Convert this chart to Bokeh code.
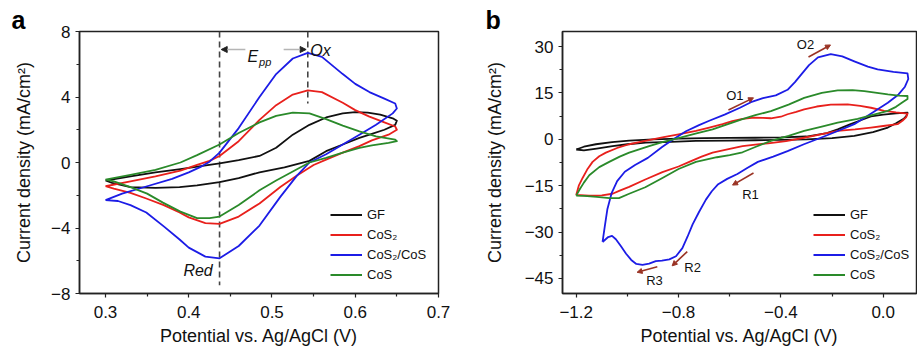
from bokeh.plotting import figure
from bokeh.layouts import row
from bokeh.models import (Range1d, Legend, LegendItem, Label, Arrow, NormalHead,
                          CustomJSTickFormatter, FixedTicker)
from bokeh.embed import file_html
from bokeh.resources import INLINE

FONT = "Liberation Sans"

series_names = ["GF", "CoS₂", "CoS₂/CoS", "CoS"]
series_colors = ["#111111", "#e8201c", "#1c1ce6", "#2a8a2a"]

# ---------------- panel a data (V vs Ag/AgCl, mA/cm2) ----------------
a_gf_x = [0.30, 0.33, 0.36, 0.39, 0.437, 0.46, 0.485, 0.505, 0.525, 0.545, 0.565, 0.585, 0.60, 0.615, 0.63, 0.645, 0.65,
          0.648, 0.635, 0.62, 0.605, 0.585, 0.565, 0.545, 0.515, 0.485, 0.46, 0.437, 0.41, 0.389, 0.36, 0.33, 0.308, 0.30]
a_gf_y = [-1.1, -0.85, -0.6, -0.4, -0.05, 0.15, 0.4, 0.9, 1.7, 2.3, 2.75, 3.0, 3.08, 3.05, 2.93, 2.7, 2.55,
          2.3, 2.0, 1.75, 1.5, 1.1, 0.69, 0.1, -0.3, -0.6, -0.95, -1.2, -1.4, -1.5, -1.55, -1.5, -1.25, -1.1]

a_cos2_x = [0.30, 0.33, 0.36, 0.39, 0.41, 0.425, 0.437, 0.46, 0.485, 0.505, 0.525, 0.543, 0.56, 0.585, 0.60, 0.617, 0.635, 0.648,
            0.65, 0.64, 0.62, 0.605, 0.585, 0.565, 0.55, 0.53, 0.51, 0.485, 0.46, 0.437, 0.42, 0.40, 0.389, 0.37, 0.349, 0.33, 0.31, 0.30]
a_cos2_y = [-1.45, -1.15, -0.85, -0.5, -0.15, 0.1, 0.4, 1.3, 2.6, 3.5, 4.15, 4.4, 4.3, 3.65, 3.2, 2.8, 2.45, 2.2,
            2.0, 1.7, 1.35, 1.0, 0.6, 0.18, -0.15, -0.8, -1.5, -2.5, -3.3, -3.75, -3.7, -3.35, -3.05, -2.6, -2.2, -1.85, -1.6, -1.45]

a_mix_x = [0.30, 0.32, 0.35, 0.38, 0.40, 0.415, 0.425, 0.437, 0.46, 0.485, 0.505, 0.525, 0.543, 0.56, 0.585, 0.60, 0.617, 0.635, 0.648,
           0.65, 0.645, 0.625, 0.605, 0.585, 0.565, 0.545, 0.53, 0.51, 0.485, 0.46, 0.437, 0.42, 0.40, 0.389, 0.37, 0.349, 0.33, 0.315, 0.30]
a_mix_y = [-2.3, -1.9, -1.45, -1.0, -0.6, -0.25, 0.05, 0.6, 2.1, 4.0, 5.4, 6.35, 6.7, 6.45, 5.4, 4.8, 4.3, 3.9, 3.6,
           3.3, 3.0, 2.3, 1.7, 1.1, 0.5, 0.0, -0.8, -2.1, -3.85, -5.1, -5.85, -5.75, -5.2, -4.7, -3.9, -3.05, -2.6, -2.35, -2.3]

a_cos_x = [0.30, 0.33, 0.36, 0.39, 0.41, 0.437, 0.46, 0.485, 0.505, 0.525, 0.545, 0.565, 0.585, 0.605, 0.625, 0.648,
           0.65, 0.64, 0.62, 0.605, 0.585, 0.565, 0.545, 0.525, 0.505, 0.485, 0.46, 0.437, 0.425, 0.41, 0.39, 0.369, 0.35, 0.33, 0.31, 0.30]
a_cos_y = [-1.05, -0.75, -0.45, 0.0, 0.45, 1.1, 1.8, 2.45, 2.85, 3.05, 3.0, 2.65, 2.25, 1.9, 1.6, 1.4,
           1.3, 1.2, 1.05, 0.9, 0.6, 0.28, 0.0, -0.55, -1.1, -1.7, -2.6, -3.3, -3.4, -3.4, -3.0, -2.45, -1.9, -1.5, -1.15, -1.05]

# ---------------- panel b data ----------------
b_gf_x = [-1.2, -1.17, -1.123, -1.06, -0.993, -0.9, -0.8, -0.7, -0.6, -0.5, -0.4, -0.3, -0.22, -0.178, -0.13, -0.08, -0.048, 0.0, 0.05, 0.095,
          0.09, 0.08, 0.05, 0.018, -0.04, -0.113, -0.2, -0.3, -0.4, -0.5, -0.6, -0.732, -0.83, -0.928, -1.0, -1.058, -1.12, -1.17, -1.2]
b_gf_y = [-3.3, -2.4, -1.6, -0.9, -0.4, 0.0, 0.2, 0.35, 0.45, 0.5, 0.6, 0.9, 2.0, 3.2, 4.8, 6.4, 7.4, 8.0, 8.4, 8.6,
          7.5, 6.6, 5.2, 3.8, 2.3, 1.1, 0.4, 0.0, -0.2, -0.3, -0.4, -0.5, -0.8, -1.1, -1.6, -2.2, -3.0, -3.6, -3.3]

b_cos2_x = [-1.2, -1.19, -1.175, -1.155, -1.136, -1.11, -1.084, -1.04, -0.993, -0.93, -0.863, -0.8, -0.732, -0.68, -0.628, -0.59, -0.55,
            -0.504, -0.47, -0.439, -0.40, -0.374, -0.34, -0.309, -0.26, -0.205, -0.139, -0.09, -0.048, 0.004, 0.05, 0.095,
            0.09, 0.075, 0.056, 0.0, -0.048, -0.11, -0.178, -0.24, -0.309, -0.38, -0.45, -0.50, -0.55, -0.60, -0.667, -0.71,
            -0.758, -0.80, -0.863, -0.93, -0.993, -1.03, -1.058, -1.10, -1.15, -1.2]
b_cos2_y = [-18.0, -15.0, -12.5, -9.5, -7.3, -5.5, -4.3, -2.8, -1.6, -0.5, 0.6, 1.6, 2.7, 3.8, 4.9, 5.9, 6.6,
            7.0, 6.9, 6.8, 7.3, 8.1, 8.9, 9.7, 10.6, 11.2, 11.3, 10.8, 10.2, 9.2, 8.7, 8.3,
            7.2, 6.0, 4.9, 4.3, 3.8, 3.2, 2.7, 1.7, 0.5, -0.6, -1.3, -1.7, -2.2, -3.1, -4.3, -5.6,
            -7.3, -8.8, -10.6, -13.0, -15.4, -16.6, -17.6, -18.1, -18.2, -18.0]

b_mix_x = [-1.097, -1.088, -1.078, -1.062, -1.04, -1.01, -0.97, -0.92, -0.863, -0.82, -0.771, -0.72, -0.68, -0.62, -0.56, -0.517,
           -0.47, -0.42, -0.374, -0.345, -0.32, -0.29, -0.255, -0.205, -0.16, -0.113, -0.06, -0.022, 0.04, 0.095,
           0.098, 0.085, 0.06, 0.018, -0.05, -0.113, -0.18, -0.244, -0.31, -0.374, -0.43, -0.49, -0.53, -0.57, -0.61, -0.645,
           -0.67, -0.693, -0.72, -0.745, -0.765, -0.785, -0.81, -0.836, -0.865, -0.889, -0.915, -0.941, -0.965, -0.985,
           -1.005, -1.025, -1.045, -1.06, -1.075, -1.097]
b_mix_y = [-33.2, -28.0, -22.5, -17.5, -13.5, -10.5, -8.3, -6.0, -2.4, 0.0, 2.6, 4.6, 6.0, 8.0, 10.2, 12.0,
           13.3, 14.2, 16.0, 18.5, 21.0, 24.0, 26.5, 27.5, 26.8, 25.2, 23.5, 22.6, 21.8, 21.3,
           19.5, 17.0, 14.5, 11.8, 8.2, 4.9, 2.6, 0.5, -1.6, -3.8, -5.6, -7.3, -9.2, -11.2, -12.8, -14.5,
           -16.8, -19.5, -23.5, -27.5, -31.5, -35.2, -37.8, -38.8, -39.2, -39.4, -40.2, -40.6, -40.3, -39.0,
           -37.0, -34.6, -32.3, -31.2, -31.6, -33.2]

b_cos_x = [-1.2, -1.185, -1.17, -1.149, -1.11, -1.071, -1.03, -0.993, -0.915, -0.86, -0.797, -0.73, -0.667, -0.61, -0.55, -0.5,
           -0.439, -0.37, -0.309, -0.24, -0.178, -0.12, -0.074, 0.018, 0.06, 0.095,
           0.095, 0.08, 0.05, 0.018, -0.022, -0.1, -0.178, -0.24, -0.309, -0.37, -0.439, -0.5, -0.55, -0.6, -0.65, -0.732,
           -0.8, -0.863, -0.93, -0.993, -1.033, -1.07, -1.12, -1.17, -1.2]
b_cos_y = [-18.2, -16.0, -14.0, -11.6, -9.0, -7.3, -5.6, -4.3, -2.2, -0.8, 0.5, 1.9, 3.2, 4.8, 6.5, 7.8,
           9.1, 11.2, 13.4, 15.0, 15.8, 15.9, 15.6, 14.5, 14.1, 14.0,
           13.0, 12.2, 10.5, 9.2, 8.3, 6.6, 5.4, 4.1, 2.7, 1.1, -0.5, -2.5, -4.2, -5.1, -5.8, -7.3,
           -9.6, -12.5, -15.5, -17.6, -19.0, -19.0, -18.6, -18.3, -18.2]

# tick values
a_xticks = [0.3, 0.4, 0.5, 0.6, 0.7]
a_xminor = [0.35, 0.45, 0.55, 0.65]
a_yticks = [-8, -4, 0, 4, 8]
a_yminor = [-6, -2, 2, 6]
b_xticks = [-1.2, -0.8, -0.4, 0.0]
b_xminor = [-1.0, -0.6, -0.2]
b_yticks = [-45, -30, -15, 0, 15, 30]
b_yminor = [-37.5, -22.5, -7.5, 7.5, 22.5]

# annotation anchors (data units)
a_red_x = 0.437
a_ox_x = 0.543

b_marks = ["O1", "O2", "R1", "R2", "R3"]
b_arrow_x0 = [-0.605, -0.292, -0.507, -0.766, -0.883]
b_arrow_y0 = [9.5, 26.6, -10.9, -36.3, -41.2]
b_arrow_x1 = [-0.507, -0.206, -0.589, -0.825, -0.962]
b_arrow_y1 = [13.4, 30.5, -14.8, -40.9, -43.0]
b_text_x = [-0.58, -0.304, -0.519, -0.745, -0.894]
b_text_y = [14.3, 30.5, -18.0, -41.6, -45.8]

ARROW_COL = "#9a3324"


def style(p, letter, letter_offset, xfmt, yfmt, ylab_standoff):
    p.outline_line_color = "#222222"
    p.outline_line_width = 1.5
    p.xgrid.visible = False
    p.ygrid.visible = False
    # panel letter as title, shifted left of the frame
    p.title.text = letter
    p.title.align = "left"
    p.title.offset = letter_offset
    p.title.standoff = -4
    p.title.text_font = FONT
    p.title.text_font_size = "25px"
    p.title.text_font_style = "bold"
    p.title.text_color = "#000000"
    for ax in (p.xaxis[0], p.yaxis[0]):
        ax.axis_line_color = "#222222"
        ax.axis_line_width = 1.5
        ax.major_tick_line_color = "#222222"
        ax.minor_tick_line_color = "#222222"
        ax.major_tick_line_width = 1.2
        ax.minor_tick_line_width = 1.2
        ax.major_tick_in = 0
        ax.major_tick_out = 4
        ax.minor_tick_in = 0
        ax.minor_tick_out = 3
        ax.major_label_text_font = FONT
        ax.major_label_text_font_size = "17px"
        ax.major_label_text_color = "#111111"
        ax.axis_label_text_font = FONT
        ax.axis_label_text_font_size = "18px"
        ax.axis_label_text_font_style = "normal"
        ax.axis_label_text_color = "#111111"
    p.xaxis[0].formatter = CustomJSTickFormatter(code=xfmt)
    p.yaxis[0].formatter = CustomJSTickFormatter(code=yfmt)
    p.xaxis[0].axis_label = "Potential vs. Ag/AgCl (V)"
    p.yaxis[0].axis_label = "Current density (mA/cm²)"
    p.xaxis[0].major_label_standoff = 8
    p.xaxis[0].axis_label_standoff = 5
    p.yaxis[0].major_label_standoff = 5
    p.yaxis[0].axis_label_standoff = ylab_standoff


def add_legend(p, renderers):
    items = [LegendItem(label=n, renderers=[r]) for n, r in zip(series_names, renderers)]
    lg = Legend(items=items, location=(251, 10), padding=0, margin=0, spacing=3,
                glyph_width=32, glyph_height=17, label_height=17, label_standoff=5,
                label_text_font=FONT, label_text_font_size="13px", label_text_color="#111111",
                border_line_alpha=0, background_fill_alpha=0)
    p.add_layout(lg)


# ---------------- panel a ----------------
p1 = figure(width=460, height=351, output_backend="svg", toolbar_location=None,
            x_range=Range1d(0.26877, 0.70001), y_range=Range1d(-8, 8),
            min_border_left=79, min_border_right=22, min_border_top=31, min_border_bottom=58)
style(p1, "a", -68, "return tick.toFixed(1).replace('-', '\\u2212');",
      "return Math.round(tick).toString().replace('-', '\\u2212');", 14)
p1.xaxis[0].ticker = FixedTicker(ticks=a_xticks, minor_ticks=a_xminor)
p1.yaxis[0].ticker = FixedTicker(ticks=a_yticks, minor_ticks=a_yminor)

# guide lines
p1.line([a_red_x, a_red_x], [8, -7.5], line_color="#444444", line_width=1.6, line_dash="6 4")
p1.line([a_ox_x, a_ox_x], [8, 3.6], line_color="#444444", line_width=1.6, line_dash="6 4")

ra = []
for xs, ys, c in zip([a_gf_x, a_cos2_x, a_mix_x, a_cos_x], [a_gf_y, a_cos2_y, a_mix_y, a_cos_y], series_colors):
    ra.append(p1.line(xs, ys, line_color=c, line_width=1.8, line_join="round"))
add_legend(p1, ra)

p1.add_layout(Arrow(end=NormalHead(size=6, fill_color="#222222", line_color="#222222"),
                    x_start=0.468, y_start=6.9, x_end=a_red_x + 0.002, y_end=6.9,
                    line_color="#b5b5b5", line_width=1.5))
p1.add_layout(Arrow(end=NormalHead(size=6, fill_color="#222222", line_color="#222222"),
                    x_start=0.514, y_start=6.9, x_end=a_ox_x - 0.002, y_end=6.9,
                    line_color="#b5b5b5", line_width=1.5))
p1.add_layout(Label(x=0.4705, y=6.5, text="E", text_font=FONT, text_font_size="16px",
                    text_font_style="italic", text_color="#111111", text_baseline="alphabetic"))
p1.add_layout(Label(x=0.4845, y=6.15, text="pp", text_font=FONT, text_font_size="11px",
                    text_font_style="italic", text_color="#111111", text_baseline="alphabetic"))
p1.add_layout(Label(x=0.546, y=6.85, text="Ox", text_font=FONT, text_font_size="16px",
                    text_font_style="italic", text_color="#111111", text_baseline="alphabetic"))
p1.add_layout(Label(x=0.3936, y=-6.6, text="Red", text_font=FONT, text_font_size="16px",
                    text_font_style="italic", text_color="#111111", text_baseline="alphabetic"))

# ---------------- panel b ----------------
p2 = figure(width=457, height=351, output_backend="svg", toolbar_location=None,
            x_range=Range1d(-1.2536, 0.1301), y_range=Range1d(-49.85, 34.85),
            min_border_left=102, min_border_right=1, min_border_top=31, min_border_bottom=58)
style(p2, "b", -77, "return tick.toFixed(1).replace('-', '\\u2212');",
      "return Math.round(tick).toString().replace('-', '\\u2212');", 17)
p2.xaxis[0].ticker = FixedTicker(ticks=b_xticks, minor_ticks=b_xminor)
p2.yaxis[0].ticker = FixedTicker(ticks=b_yticks, minor_ticks=b_yminor)

rb = []
for xs, ys, c in zip([b_gf_x, b_cos2_x, b_mix_x, b_cos_x], [b_gf_y, b_cos2_y, b_mix_y, b_cos_y], series_colors):
    rb.append(p2.line(xs, ys, line_color=c, line_width=1.8, line_join="round"))
add_legend(p2, rb)

for i in range(len(b_marks)):
    p2.add_layout(Arrow(end=NormalHead(size=5, fill_color=ARROW_COL, line_color=ARROW_COL),
                        x_start=b_arrow_x0[i], y_start=b_arrow_y0[i],
                        x_end=b_arrow_x1[i], y_end=b_arrow_y1[i],
                        line_color=ARROW_COL, line_width=1.6))
    p2.add_layout(Label(x=b_text_x[i], y=b_text_y[i], text=b_marks[i], text_font=FONT,
                        text_font_size="13px", text_color="#111111",
                        text_align="center", text_baseline="middle"))

layout = row(p1, p2)
open("out.html", "w").write(file_html(layout, INLINE))
